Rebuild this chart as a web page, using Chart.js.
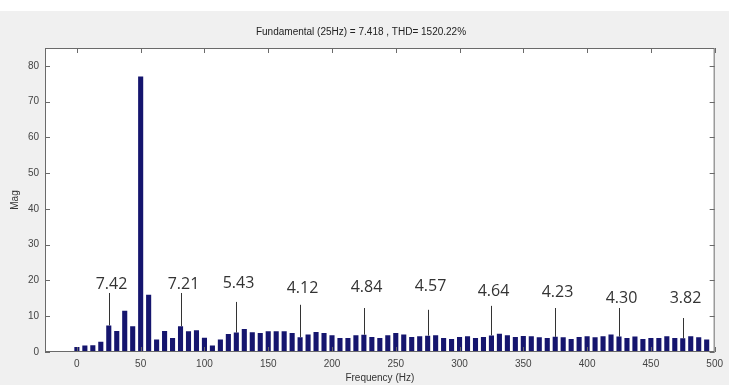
<!DOCTYPE html>
<html>
<head>
<meta charset="utf-8">
<script src="https://cdn.jsdelivr.net/npm/chart.js@4/dist/chart.umd.min.js"></script>
<style>
  html, body { margin: 0; padding: 0; background: #fff; }
  #wrap { width: 729px; height: 385px; }
</style>
</head>
<body>
<div id="wrap"><canvas id="fft" width="729" height="385"></canvas></div>
<script>
// frequências dos bins (Hz)
const freqs = [
  0, 6.25, 12.5, 18.75, 25, 31.25, 37.5, 43.75, 50, 56.25,
  62.5, 68.75, 75, 81.25, 87.5, 93.75, 100, 106.25, 112.5, 118.75,
  125, 131.25, 137.5, 143.75, 150, 156.25, 162.5, 168.75, 175, 181.25,
  187.5, 193.75, 200, 206.25, 212.5, 218.75, 225, 231.25, 237.5, 243.75,
  250, 256.25, 262.5, 268.75, 275, 281.25, 287.5, 293.75, 300, 306.25,
  312.5, 318.75, 325, 331.25, 337.5, 343.75, 350, 356.25, 362.5, 368.75,
  375, 381.25, 387.5, 393.75, 400, 406.25, 412.5, 418.75, 425, 431.25,
  437.5, 443.75, 450, 456.25, 462.5, 468.75, 475, 481.25, 487.5, 493.75
];
// magnitude
const mags = [
  1.4, 1.8, 1.9, 2.9, 7.42, 5.9, 11.5, 7.2, 77, 16.0,
  3.5, 5.9, 3.9, 7.21, 5.8, 6.1, 4.0, 1.8, 3.5, 5.0,
  5.43, 6.4, 5.5, 5.3, 5.8, 5.8, 5.8, 5.3, 4.12, 4.9,
  5.6, 5.3, 4.7, 3.9, 3.9, 4.7, 4.84, 4.2, 3.9, 4.7,
  5.3, 4.9, 4.2, 4.4, 4.57, 4.7, 3.9, 3.6, 4.2, 4.4,
  3.9, 4.2, 4.64, 5.1, 4.7, 4.2, 4.5, 4.4, 4.1, 3.9,
  4.23, 4.1, 3.6, 4.2, 4.4, 4.1, 4.4, 4.9, 4.30, 3.9,
  4.3, 3.6, 3.9, 3.9, 4.4, 3.9, 3.82, 4.4, 4.1, 3.5
];

const xTicks = [0, 50, 100, 150, 200, 250, 300, 350, 400, 450, 500];
const yTicks = [0, 10, 20, 30, 40, 50, 60, 70, 80];

// rótulos das harmônicas
const annoFreq = [25, 81.25, 125, 175, 225, 275, 325, 375, 425, 475];
const annoText = ['7.42', '7.21', '5.43', '4.12', '4.84', '4.57', '4.64', '4.23', '4.30', '3.82'];
const annoLineTop = [16.5, 16.5, 14, 13.2, 12.3, 11.8, 12.9, 12.3, 12.3, 9.5];
const annoTextY = [18.9, 18.9, 19.2, 17.8, 18.1, 18.3, 16.9, 16.7, 15, 15];

const tituloTexto = 'Fundamental (25Hz) = 7.418 , THD= 1520.22%';

/* ================= PLUGINS ================= */
const fundo = {
  id: 'fundo',
  beforeDraw(chart) {
    const { ctx, width, height, chartArea: a } = chart;
    ctx.save();
    ctx.fillStyle = '#ffffff';
    ctx.fillRect(0, 0, width, height);
    ctx.fillStyle = '#f0f0f0';
    ctx.fillRect(0, 11, width, height - 11);
    ctx.fillStyle = '#ffffff';
    ctx.fillRect(a.left, a.top, a.right - a.left, a.bottom - a.top);
    ctx.restore();
  }
};

const moldura = {
  id: 'moldura',
  afterDraw(chart) {
    const { ctx, chartArea: a, scales } = chart;
    ctx.save();
    ctx.strokeStyle = '#6a6a6a';
    ctx.lineWidth = 1;
    ctx.strokeRect(a.left + 0.5, a.top + 0.5, a.right - a.left - 1, a.bottom - a.top - 1);
    ctx.beginPath();
    xTicks.forEach(v => {
      const px = Math.round(scales.x.getPixelForValue(v)) + 0.5;
      ctx.moveTo(px, a.top); ctx.lineTo(px, a.top + 5);
      ctx.moveTo(px, a.bottom); ctx.lineTo(px, a.bottom - 5);
    });
    yTicks.forEach(v => {
      const py = Math.round(scales.y.getPixelForValue(v)) + 0.5;
      ctx.moveTo(a.left, py); ctx.lineTo(a.left + 5, py);
      ctx.moveTo(a.right, py); ctx.lineTo(a.right - 5, py);
    });
    ctx.stroke();

    // linhas e valores das harmônicas
    ctx.strokeStyle = '#333333';
    ctx.fillStyle = '#333333';
    ctx.font = '16px "Open Sans"';
    ctx.textAlign = 'center';
    ctx.textBaseline = 'middle';
    annoFreq.forEach((f, i) => {
      const px = Math.round(scales.x.getPixelForValue(f)) + 0.5;
      const idx = freqs.indexOf(f);
      const yb = scales.y.getPixelForValue(mags[idx]);
      const yt = scales.y.getPixelForValue(annoLineTop[i]);
      ctx.beginPath();
      ctx.moveTo(px, yb); ctx.lineTo(px, yt);
      ctx.stroke();
      ctx.fillText(annoText[i], px + 2, scales.y.getPixelForValue(annoTextY[i]));
    });
    ctx.restore();
  }
};

/* ================= GRÁFICO ================= */
const ctx = document.getElementById('fft');

new Chart(ctx, {
  type: 'bar',
  data: {
    datasets: [{
      data: freqs.map((f, i) => ({ x: f, y: mags[i] })),
      backgroundColor: '#15156e',
      borderWidth: 0,
      categoryPercentage: 1,
      barPercentage: 0.64
    }]
  },
  options: {
    responsive: false,
    animation: false,
    layout: { padding: { top: 0, right: 7, left: 0, bottom: 0 } },
    plugins: {
      legend: { display: false },
      tooltip: { enabled: false },
      title: {
        display: true,
        text: tituloTexto,
        color: '#222',
        font: { family: 'Liberation Sans', size: 10, weight: 'normal' },
        padding: { top: 26, bottom: 10 }
      }
    },
    scales: {
      x: {
        type: 'linear',
        min: -25,
        max: 500,
        offset: false,
        afterBuildTicks: s => { s.ticks = xTicks.map(v => ({ value: v })); },
        afterFit: s => { s.height = 33; },
        grid: { display: false, drawTicks: false },
        border: { display: false },
        ticks: {
          color: '#444',
          font: { family: 'Liberation Sans', size: 10 },
          padding: 6,
          maxRotation: 0,
          autoSkip: false
        },
        title: {
          display: true,
          text: 'Frequency (Hz)',
          color: '#333',
          font: { family: 'Liberation Sans', size: 10 },
          padding: { top: 0, bottom: 1 }
        }
      },
      y: {
        min: 0,
        max: 85,
        afterBuildTicks: s => { s.ticks = yTicks.map(v => ({ value: v })); },
        afterFit: s => { s.width = 45; },
        grid: { display: false, drawTicks: false },
        border: { display: false },
        ticks: {
          color: '#444',
          font: { family: 'Liberation Sans', size: 10 },
          padding: 6
        },
        title: {
          display: true,
          text: 'Mag',
          color: '#333',
          font: { family: 'Liberation Sans', size: 10 },
          padding: { top: 9, bottom: 0 }
        }
      }
    }
  },
  plugins: [fundo, moldura]
});
</script>
</body>
</html>
